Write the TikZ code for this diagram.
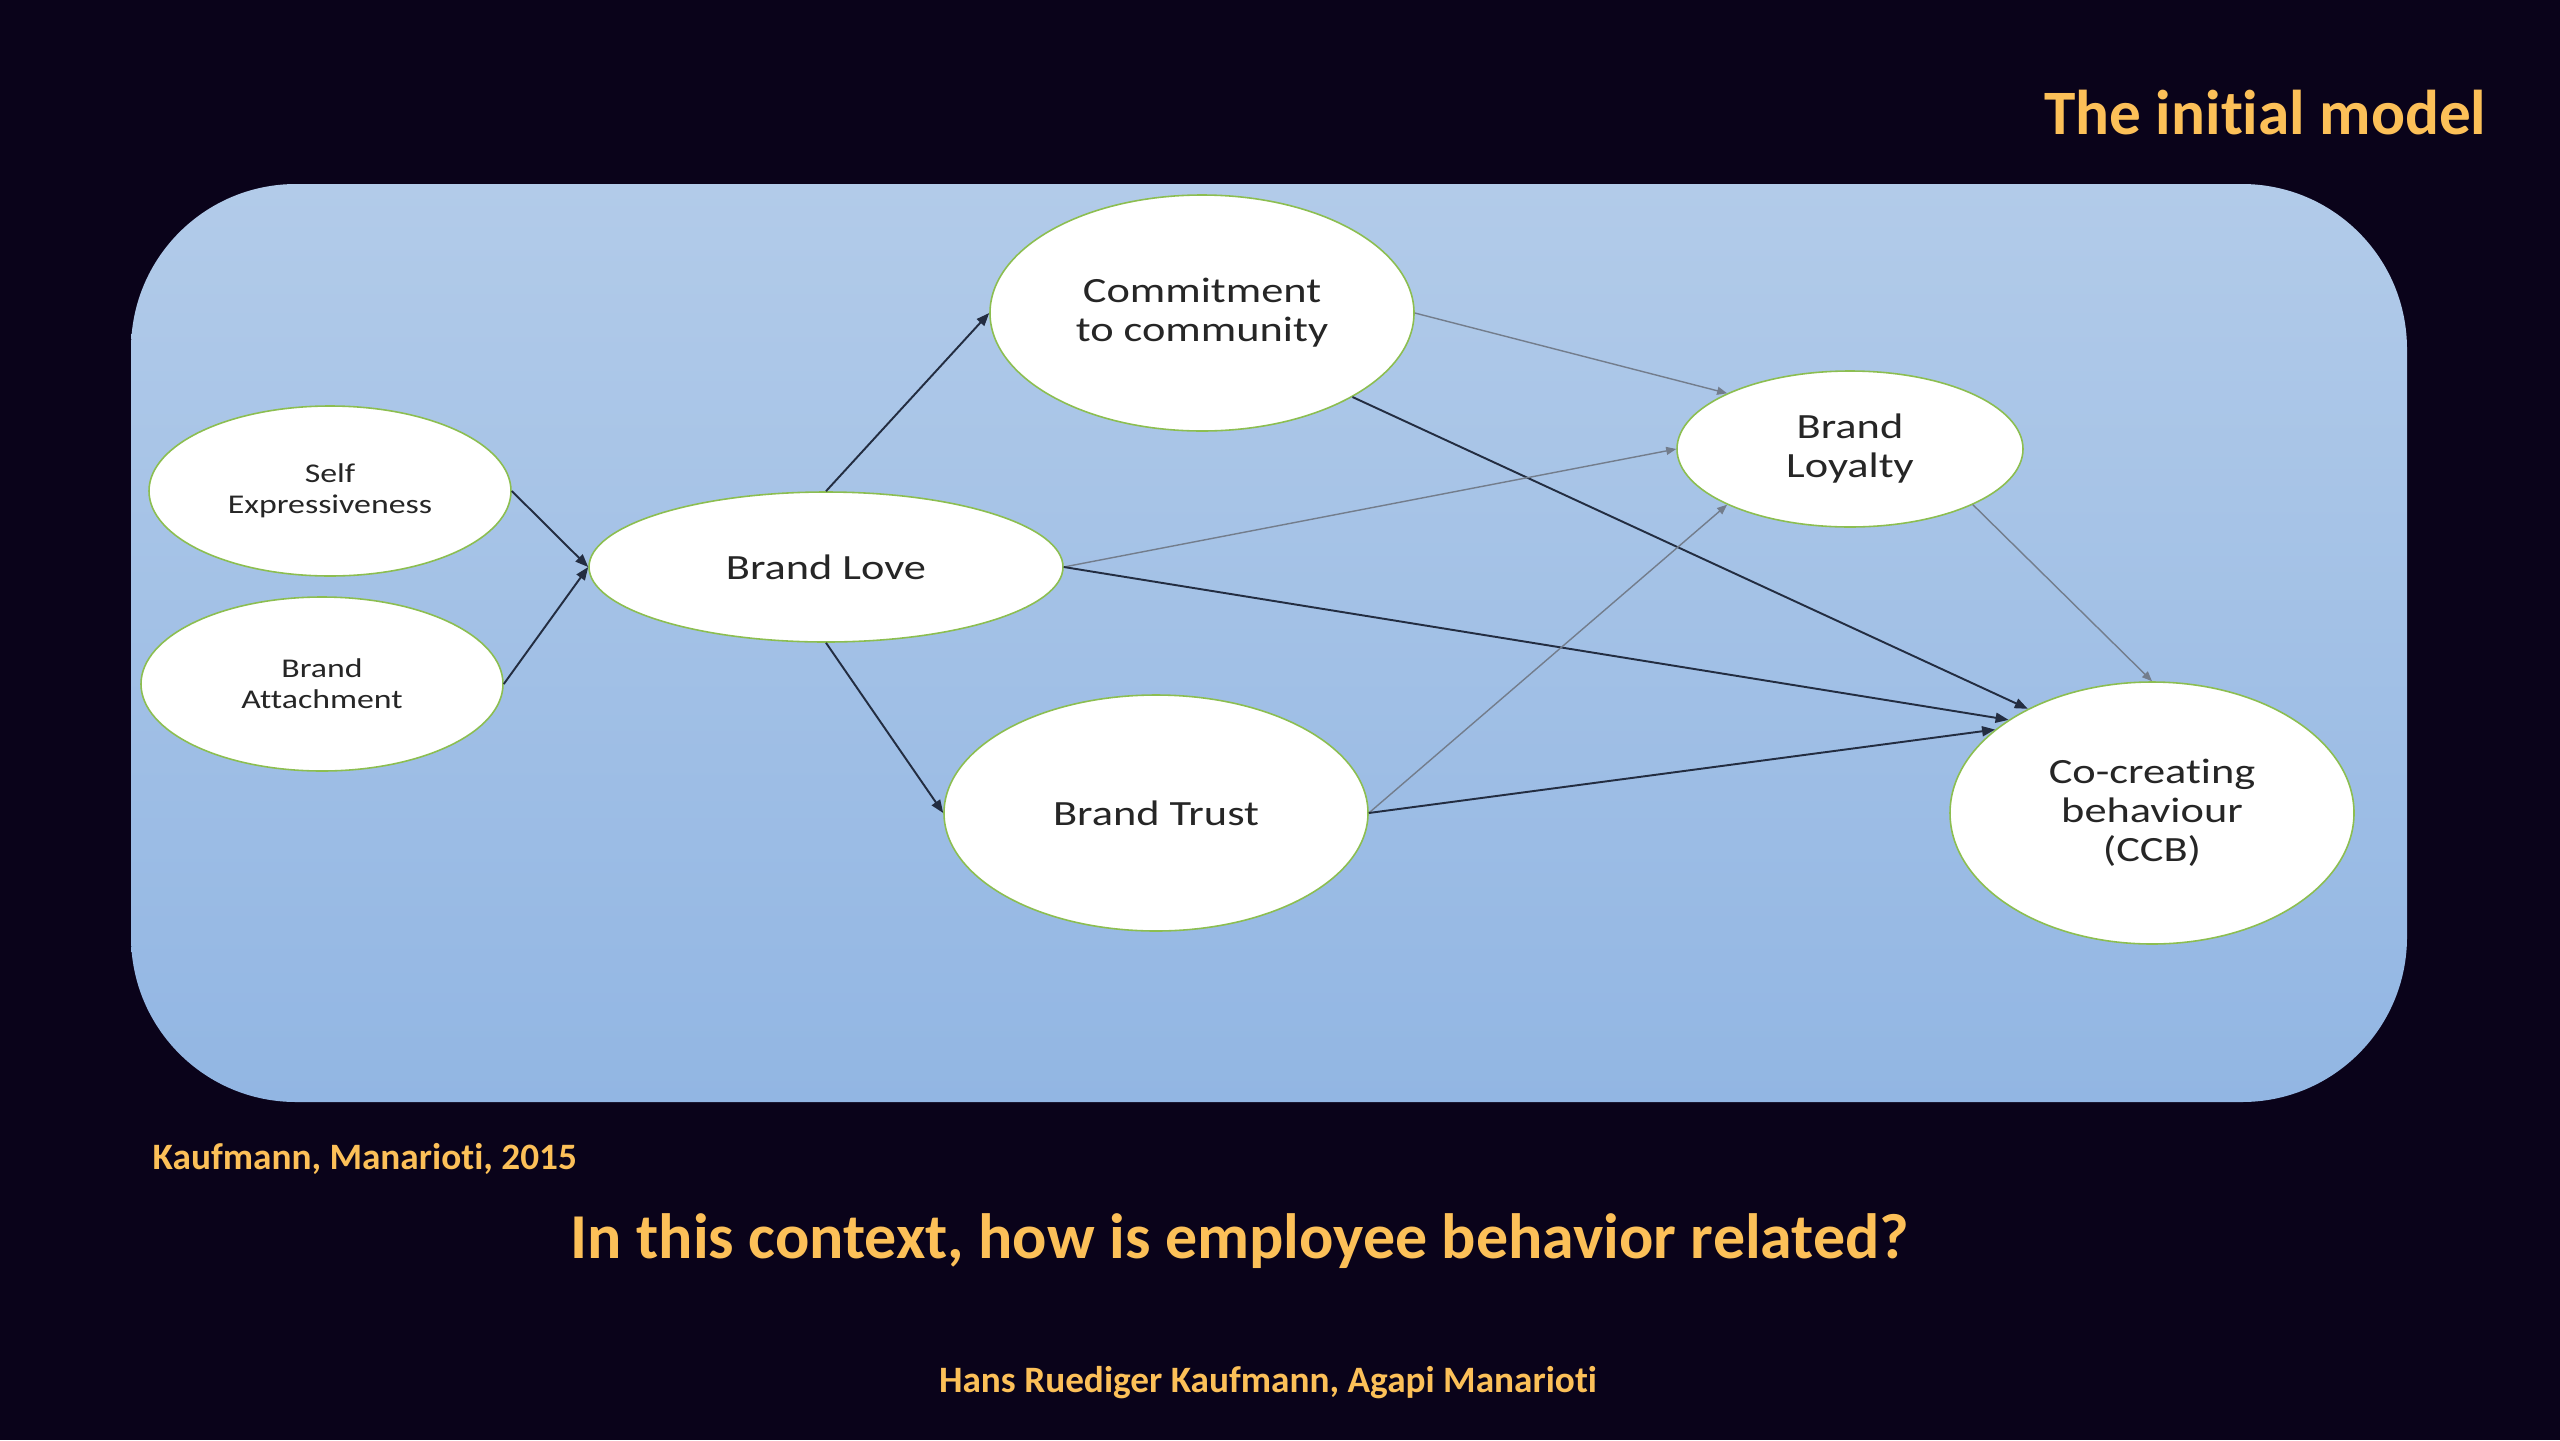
\documentclass[tikz,border=0pt]{standalone}
\usepackage{fontspec}
\setmainfont[Ligatures=NoCommon]{Carlito}
\newfontfamily\nodefont[FakeStretch=1.25,Ligatures=NoCommon]{Carlito}
\usepackage{tikz}
\usetikzlibrary{shapes.geometric,arrows.meta}
\usepackage{xcolor}
\definecolor{mynavy}{RGB}{10,3,26}
\definecolor{myorange}{RGB}{252,192,88}
\definecolor{mygreen}{RGB}{140,190,80}
\definecolor{mytop}{RGB}{178,203,233}
\definecolor{mybottom}{RGB}{146,182,227}
\definecolor{mydark}{RGB}{35,45,65}
\definecolor{mygray}{RGB}{115,125,140}
\tikzset{
  construct/.style={ellipse,draw=mygreen,line width=0.45pt,fill=white,inner sep=0pt,align=center,text=black!85,font=\nodefont\fontsize{10.1pt}{11.1pt}\selectfont},
  smallconstruct/.style={construct,font=\nodefont\fontsize{7.7pt}{8.8pt}\selectfont},
  slidetext/.style={text=myorange,font=\bfseries\fontsize{#1}{#1}\selectfont},
}

\begin{document}
\begin{tikzpicture}[
    arr/.style={-{Triangle[length=1.3mm,width=1.0mm]},draw=mydark,line width=0.55pt},
    arrlight/.style={-{Triangle[length=1.0mm,width=0.8mm]},draw=mygray,line width=0.4pt},
  ]
  \useasboundingbox (0,0) rectangle (25.6,-14.4);
  \fill[mynavy] (0,0) rectangle (25.6,-14.4);
  \shade[top color=mytop,bottom color=mybottom,rounded corners=1.65cm] (1.31,-1.84) rectangle (24.07,-11.02);

  % Antecedents
  \node[smallconstruct,minimum width=3.62cm,minimum height=1.70cm] (selfexp) at (3.30,-4.91) {Self\\Expressiveness};
  \node[smallconstruct,minimum width=3.62cm,minimum height=1.74cm] (attach) at (3.22,-6.84) {Brand\\Attachment};
  \node[construct,minimum width=4.74cm,minimum height=1.50cm] (love) at (8.26,-5.67) {Brand Love};

  % Mediators
  \node[construct,minimum width=4.24cm,minimum height=2.36cm] (commit) at (12.02,-3.13) {Commitment\\to community};
  \node[construct,minimum width=4.24cm,minimum height=2.36cm] (trust) at (11.56,-8.13) {Brand Trust};
  \node[construct,minimum width=3.46cm,minimum height=1.56cm] (loyal) at (18.50,-4.49) {Brand\\Loyalty};
  \node[construct,minimum width=4.04cm,minimum height=2.62cm] (ccb) at (21.52,-8.13) {Co-creating\\behaviour\\(CCB)};

  \draw[arr] (selfexp.east) -- (love.west);
  \draw[arr] (attach.east) -- (love.west);
  \draw[arr] (love.north) -- (commit.west);
  \draw[arr] (love.south) -- (trust.west);
  \draw[arrlight] (commit.east) -- (loyal.north west);
  \draw[arr] (commit.south east) -- (ccb.140);
  \draw[arrlight] (love.east) -- (loyal.west);
  \draw[arr] (love.east) -- (ccb.147);
  \draw[arrlight] (trust.east) -- (loyal.south west);
  \draw[arr] (trust.east) -- (ccb.152);
  \draw[arrlight] (loyal.south east) -- (ccb.north);

  % Slide texts
  \node[slidetext=18pt,anchor=east,inner sep=0pt] (title) at (24.87,-1.13) {The initial model};
  \node[slidetext=10.6pt,anchor=west,inner sep=0pt] (source) at (1.52,-11.59) {Kaufmann, Manarioti, 2015};
  \node[slidetext=18.2pt,inner sep=0pt] (question) at (12.40,-12.41) {In this context, how is employee behavior related?};
  \node[slidetext=10.6pt,inner sep=0pt] (authors) at (12.68,-13.83) {Hans Ruediger Kaufmann, Agapi Manarioti};
\end{tikzpicture}
\end{document}
